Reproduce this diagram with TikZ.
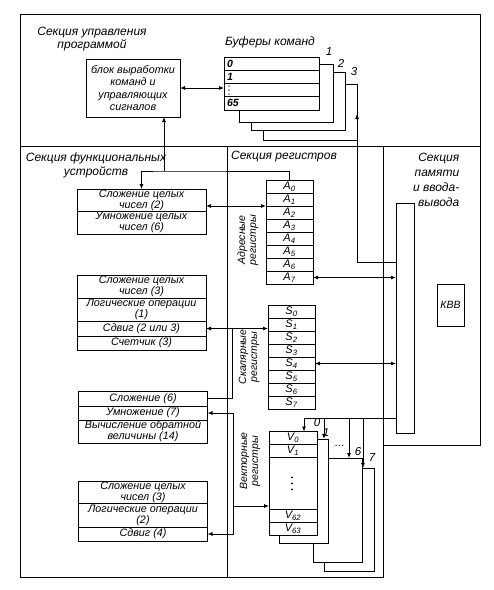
\documentclass[tikz,border=0pt]{standalone}
\usepackage{fontspec}
\setmainfont{Liberation Sans}
\usetikzlibrary{positioning,calc,arrows.meta}

\tikzset{
  every path/.style={line width=0.8pt},
  layer/.style={draw, fill=white, inner sep=0pt, outer sep=0pt},
  fbox/.style={layer, minimum width=129pt, align=center, font=\fontsize{10.8}{10.8}\selectfont\itshape},
  reg/.style={layer, minimum width=47pt, minimum height=13pt, font=\fontsize{11}{11}\selectfont\itshape},
  cell/.style={layer, minimum width=95pt, minimum height=13.25pt, inner xsep=3pt, text width=89pt, align=left, font=\fontsize{10.5}{10.5}\selectfont\bfseries\itshape},
  sect/.style={align=center, font=\fontsize{12}{12.5}\selectfont\itshape},
  rlbl/.style={align=center, rotate=90, font=\fontsize{10.5}{11}\selectfont\itshape},
  num/.style={font=\fontsize{11.5}{11.5}\selectfont\itshape},
  arr/.style={-{Latex[length=5pt,width=4pt]}},
  dbl/.style={{Latex[length=5pt,width=4pt]}-{Latex[length=5pt,width=4pt]}},
}

\begin{document}
\begin{tikzpicture}[x=1pt,y=-1pt]
\useasboundingbox (0,0) rectangle (494,590);
\draw (20,14) rectangle (480,146);
\draw (20,146) rectangle (227,577);
\draw (227,146) rectangle (383,577);
\draw (383,146) rectangle (480,445);

\node[sect] (ctl) at (92,39) {Секция управления\\программой};
\node[layer, minimum width=94pt, minimum height=58pt, align=center, font=\fontsize{10.8}{12.5}\selectfont\itshape] (blk) at (133,88) {блок выработки\\команд и\\управляющих\\сигналов};

\node[sect] (bt) at (270,42) {Буферы команд};
\node[layer, minimum width=94pt, minimum height=56pt] (buf3) at (310,112) {};
\node[layer, minimum width=94pt, minimum height=58pt] (buf2) at (298,101) {};
\node[layer, minimum width=94pt, minimum height=58pt] (buf1) at (286,93) {};
\node[cell] (c0) at (271.5,63.6) {0};
\node[cell, below=0pt of c0] (c1) {1};
\node[cell, below=0pt of c1] (c2) {};
\node[cell, below=0pt of c2] (c3) {65};
\foreach \d in {-4,0,4}
  \fill ([xshift=5pt,yshift=\d pt]c2.west) circle (0.7pt);
\node[num] (b1) at (329,52) {1};
\node[num] (b2) at (341,63) {2};
\node[num] (b3) at (354,72) {3};
\draw[dbl] (blk.east) -- (blk.east -| c2.west);

\node[sect, font=\fontsize{12}{14}\selectfont\itshape] (fus) at (96,165) {Секция функциональных\\устройств};
\node[sect] (rgs) at (284,157) {Секция регистров};
\node[sect, align=right, anchor=east, font=\fontsize{12}{15}\selectfont\itshape] (mem) at (463,180) {Секция\\памяти\\и ввода-\\вывода};

\node[fbox, minimum height=22pt] (fu1a) at (141.5,200) {Сложение целых\\чисел (2)};
\node[fbox, minimum height=23pt, below=0pt of fu1a] (fu1b) {Умножение целых\\чисел (6)};

\node[fbox, minimum height=23pt] (fu2a) at (141.5,286.5) {Сложение целых\\чисел (3)};
\node[fbox, minimum height=23pt, below=0pt of fu2a] (fu2b) {Логические операции\\(1)};
\node[fbox, minimum height=15pt, below=0pt of fu2b] (fu2c) {Сдвиг (2 или 3)};
\node[fbox, minimum height=14pt, below=0pt of fu2c] (fu2d) {Счетчик (3)};

\node[fbox, minimum height=15pt] (fu3a) at (143,398.5) {Сложение (6)};
\node[fbox, minimum height=14pt, below=0pt of fu3a] (fu3b) {Умножение (7)};
\node[fbox, minimum height=23pt, below=0pt of fu3b] (fu3c) {Вычисление обратной\\величины (14)};

\node[fbox, minimum height=22pt] (fu4a) at (143,492) {Сложение целых\\чисел (3)};
\node[fbox, minimum height=24pt, below=0pt of fu4a] (fu4b) {Логические операции\\(2)};
\node[fbox, minimum height=14pt, below=0pt of fu4b] (fu4c) {Сдвиг (4)};

\foreach \i in {0,...,7}
  \node[reg] (A\i) at (289.5,186.5+13*\i) {A\textsubscript{\i}};
\foreach \i in {0,...,7}
  \node[reg] (S\i) at (291.5,311.5+13*\i) {S\textsubscript{\i}};
\node[rlbl] (al) at (248,240) {Адресные\\регистры};
\node[rlbl] (sl) at (249,357) {Скалярные\\регистры};
\node[rlbl] (vl) at (250,461) {Векторные\\регистры};

\node[layer, minimum width=50pt, minimum height=103pt] (Vb7) at (349,519.5) {};
\node[layer, minimum width=49pt, minimum height=104pt] (Vb6) at (337.5,510) {};
\node[layer, minimum width=49pt, minimum height=104pt] (Vb1) at (303.5,491) {};
\node[reg, minimum width=48pt] (V0) at (293,438) {V\textsubscript{0}};
\node[reg, minimum width=48pt, below=0pt of V0] (V1) {V\textsubscript{1}};
\node[reg, minimum width=48pt, minimum height=51.5pt, below=0pt of V1] (Vd) {};
\node[reg, minimum width=48pt, below=0pt of Vd] (V62) {V\textsubscript{62}};
\node[reg, minimum width=48pt, below=0pt of V62] (V63) {V\textsubscript{63}};
\foreach \d in {-6,0,6}
  \fill ([xshift=-1pt,yshift=\d pt]Vd.center) circle (1pt);
\node[num] (n0) at (317,423) {0};
\node[num] (n1) at (326,433) {1};
\node[num] (nd) at (340,446) {...};
\node[num] (n6) at (358,452) {6};
\node[num] (n7) at (372,458) {7};

\node[layer, minimum width=18pt, minimum height=230pt] (bus) at (405,318) {};
\node[layer, minimum width=27pt, minimum height=42pt, font=\fontsize{10.5}{10.5}\selectfont\itshape] (kvv) at (450.5,305) {КВВ};

\coordinate (jn) at (164,171);
\draw[arr] (A0.north) |- (jn) -| (fu1a.north);
\draw[arr] (jn) -- (jn |- blk.south);
\draw[dbl] (A1.south west) -- (A1.south west -| fu1a.east);
\draw[dbl] (A7.east) -- (A7.east -| bus.west);
\coordinate (b3in) at (357,114);
\draw[arr] ([yshift=-59pt]bus.north west) -| (b3in);

\draw[dbl] (fu2c.east) -- (fu2c.east -| S1.west);
\draw ([xshift=26pt]fu2c.east) |- (fu3a.east);
\draw[dbl] (S4.east) -- (S4.east -| bus.west);

\coordinate (vbus) at ([xshift=26pt]fu4c.east);
\coordinate (vin) at ([yshift=3pt]V62.north west);
\draw[dbl] (fu3b.east) -| (vbus) -- (fu4c.east);
\draw[arr] (vbus |- vin) -- (vin);

\coordinate (vt) at ([yshift=15pt]bus.south west);
\draw[arr] (vt) -| ([xshift=11pt]V0.north);
\foreach \n/\s in {Vb1/-4, Vb6/-13, Vb7/-11} {
  \coordinate (t) at ([xshift=\s pt]\n.north east);
  \draw[arr] (t |- vt) -- (t);
}
\end{tikzpicture}
\end{document}
